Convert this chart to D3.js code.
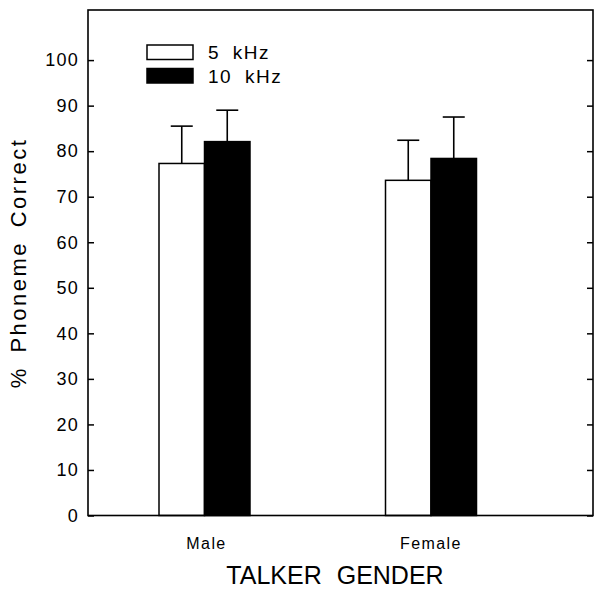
<!DOCTYPE html>
<html><head><meta charset="utf-8">
<script src="https://cdn.jsdelivr.net/npm/d3@7"></script>
<style>body{margin:0;background:#fff}svg{display:block}text{font-family:"Liberation Sans",Arial,sans-serif;fill:#000}</style>
</head><body><svg id="c" width="602" height="592"></svg>
<script>
const categories = ["Male", "Female"];
const seriesNames = ["5 kHz", "10 kHz"];
const meanValues5k = [77.3, 73.6];
const meanValues10k = [82.1, 78.4];
const errorTops5k = [85.5, 82.4];
const errorTops10k = [89.0, 87.5];
const yTicks = [0,10,20,30,40,50,60,70,80,90,100];
const xTitle = "TALKER GENDER";
const yTitle = "% Phoneme Correct";

const svg = d3.select("#c");
const L = 88, R = 593, T = 10, B = 515.5;
const y = d3.scaleLinear().domain([0, 111]).range([B, T]);
const xc = d3.scalePoint().domain(categories).range([204.5, 431]);
const barW = 45.5;
const colors = ["#fff", "#000"];
const series = [
  {name: seriesNames[0], vals: meanValues5k, errs: errorTops5k, off: -1},
  {name: seriesNames[1], vals: meanValues10k, errs: errorTops10k, off: 0}
];

series.forEach((s, si) => {
  categories.forEach((c, i) => {
    const cx = xc(c) + s.off * barW + barW / 2;
    svg.append("line").attr("x1", cx).attr("x2", cx)
      .attr("y1", y(s.vals[i])).attr("y2", y(s.errs[i]))
      .attr("stroke", "#000").attr("stroke-width", 1.6);
    svg.append("line").attr("x1", cx - 11).attr("x2", cx + 11)
      .attr("y1", y(s.errs[i])).attr("y2", y(s.errs[i]))
      .attr("stroke", "#000").attr("stroke-width", 1.6);
  });
});
series.forEach((s, si) => {
  categories.forEach((c, i) => {
    const x0 = xc(c) + s.off * barW;
    svg.append("rect").attr("x", x0).attr("y", y(s.vals[i]))
      .attr("width", barW).attr("height", y(0) - y(s.vals[i]))
      .attr("fill", colors[si]).attr("stroke", "#000").attr("stroke-width", 1.5);
  });
});

svg.append("rect").attr("x", L).attr("y", T).attr("width", R - L).attr("height", B - T)
  .attr("fill", "none").attr("stroke", "#000").attr("stroke-width", 1.6);

const yAxis = d3.axisLeft(y).tickValues(yTicks).tickSize(-6).tickPadding(9);
const gY = svg.append("g").attr("transform", `translate(${L},0)`).call(yAxis);
gY.select(".domain").remove();
gY.selectAll(".tick line").attr("stroke", "#000").attr("stroke-width", 1.5);
gY.selectAll(".tick text").attr("font-size", 18).style("letter-spacing", "1.2px")
  .style("font-family", '"Liberation Sans",Arial,sans-serif').attr("fill", "#000");
const yAxisR = d3.axisRight(y).tickValues(yTicks).tickSize(-6).tickFormat("");
const gYR = svg.append("g").attr("transform", `translate(${R},0)`).call(yAxisR);
gYR.select(".domain").remove();
gYR.selectAll(".tick line").attr("stroke", "#000").attr("stroke-width", 1.5);

categories.forEach((c, i) => {
  svg.append("text").attr("x", xc(c) + (i === 0 ? 2 : 0)).attr("y", 549).attr("text-anchor", "middle")
    .attr("font-size", 16).style("letter-spacing", "1.4px").text(c);
});
svg.append("text").attr("x", 335).attr("y", 584).attr("text-anchor", "middle")
  .attr("font-size", 25).style("word-spacing", "8px").text(xTitle);
svg.append("text").attr("transform", "translate(26,263) rotate(-90)").attr("text-anchor", "middle")
  .attr("font-size", 22).style("letter-spacing", "2.5px").style("word-spacing", "5px").text(yTitle);

series.forEach((s, si) => {
  const ly = 45 + si * 23.5;
  svg.append("rect").attr("x", 147).attr("y", ly).attr("width", 46).attr("height", 14.5)
    .attr("fill", colors[si]).attr("stroke", "#000").attr("stroke-width", 1.5);
  svg.append("text").attr("x", 208).attr("y", ly + 14).attr("font-size", 19)
    .style("letter-spacing", "1.5px").style("word-spacing", "6px").text(s.name);
});
</script></body></html>
